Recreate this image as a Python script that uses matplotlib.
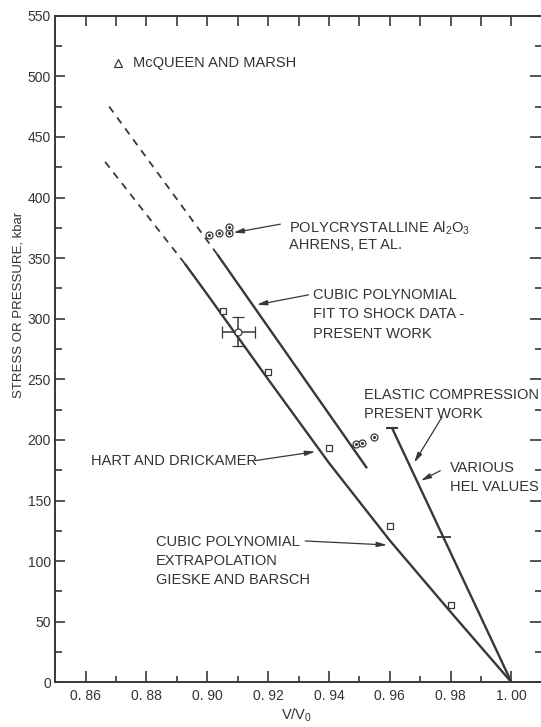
import numpy as np
import matplotlib
matplotlib.use("Agg")
import matplotlib.pyplot as plt
from matplotlib.ticker import MultipleLocator, FixedLocator

plt.rcParams['font.family'] = ['Liberation Sans', 'DejaVu Sans']
plt.rcParams['mathtext.fontset'] = 'custom'
plt.rcParams['mathtext.rm'] = 'Liberation Sans'
plt.rcParams['mathtext.it'] = 'Liberation Sans'

# ---------------- data ----------------
# Gieske & Barsch cubic extrapolation (solid part, then dashed continuation)
gb_v = [1.00, 0.98, 0.96, 0.94, 0.92, 0.90, 0.8926]
gb_p = [0, 58, 117, 181, 250, 320, 345.5]
gb_dash_v = [0.8926, 0.8656]
gb_dash_p = [345.5, 432]

# Cubic polynomial fit to shock data, present work
fit_v = [0.9525, 0.9033]
fit_p = [176.6, 353]
fit_dash_v = [0.9033, 0.8676]
fit_dash_p = [353, 475.5]

# Elastic compression, present work
el_v = [1.00, 0.9607]
el_p = [0, 210]
hel_v = [0.9777]
hel_p = [120]

# Hart & Drickamer (squares)
sq_v = [0.905, 0.920, 0.940, 0.960, 0.980]
sq_p = [306, 256, 193, 129, 64]

# Ahrens et al. polycrystalline (circles)
ci_v = [0.9004, 0.9037, 0.9070, 0.9070, 0.9490, 0.9508, 0.9547]
ci_p = [369, 371, 371, 376, 196.5, 197.8, 202]

# Point with error bars
eb_v = [0.9102]
eb_p = [289.3]
eb_xerr = [0.0055]
eb_yerr = [11.7]

# McQueen and Marsh legend triangle
tri_v = [0.8708]
tri_p = [510.7]

x_ticks = [0.86, 0.88, 0.90, 0.92, 0.94, 0.96, 0.98, 1.00]
x_ticklabels = ["0. 86", "0. 88", "0. 90", "0. 92", "0. 94", "0. 96", "0. 98", "1. 00"]
y_ticks = list(range(0, 551, 50))

# ---------------- figure ----------------
ink = "#383838"
W, H = 541, 727
fig = plt.figure(figsize=(W / 100, H / 100), dpi=100)
ax = fig.add_axes([55.2 / W, (H - 682.3) / H, 1 - 55.2 / W, (682.3 - 15.7) / H])
ax.set_xlim(0.85, 1.0097)
ax.set_ylim(0, 550)

lw = 1.7
ax.plot(gb_v, gb_p, color=ink, lw=lw, solid_capstyle='butt', solid_joinstyle='round')
ax.plot(gb_dash_v, gb_dash_p, color=ink, lw=1.3, dashes=(4, 3.5))
ax.plot(fit_v, fit_p, color=ink, lw=lw, solid_capstyle='butt')
ax.plot(fit_dash_v, fit_dash_p, color=ink, lw=1.3, dashes=(4, 3.5))
ax.plot(el_v, el_p, color=ink, lw=lw, solid_capstyle='butt')
ax.plot(el_v[1:], el_p[1:], ls='none', marker='_', ms=8, mew=1.5, color=ink)
ax.plot(hel_v, hel_p, ls='none', marker='_', ms=10, mew=1.3, color=ink)

ax.plot(sq_v, sq_p, ls='none', marker='s', ms=4.5, mfc='white', mec=ink, mew=0.9)
ax.plot(ci_v, ci_p, ls='none', marker='o', ms=5, mfc='white', mec=ink, mew=0.9)
ax.plot(ci_v, ci_p, ls='none', marker='o', ms=1.2, mfc=ink, mec=ink)
ax.errorbar(eb_v, eb_p, xerr=eb_xerr, yerr=eb_yerr, fmt='o', ms=5, mfc='white',
            mec=ink, mew=0.9, ecolor=ink, elinewidth=1.1, capsize=4, capthick=1.1)
ax.plot(tri_v, tri_p, ls='none', marker='^', ms=6, mfc='white', mec=ink, mew=0.9)

fs = 10.5
tc = "#333333"
ax.text(0.8755, 511, "McQUEEN AND MARSH", fontsize=fs, color=tc, va='center', ha='left')
ax.text(0.9267, 375, r"POLYCRYSTALLINE Al$_2$O$_3$", fontsize=fs, color=tc, va='center', ha='left')
ax.text(0.9267, 361, "AHRENS, ET AL.", fontsize=fs, color=tc, va='center', ha='left')
for i, s in enumerate(["CUBIC POLYNOMIAL", "FIT TO SHOCK DATA -", "PRESENT WORK"]):
    ax.text(0.9347, 319.7 - i * 16.2, s, fontsize=fs, color=tc, va='center', ha='left')
for i, s in enumerate(["ELASTIC COMPRESSION", "PRESENT WORK"]):
    ax.text(0.9516, 237 - i * 15.9, s, fontsize=fs, color=tc, va='center', ha='left')
for i, s in enumerate(["VARIOUS", "HEL VALUES"]):
    ax.text(0.9797, 176.6 - i * 15.7, s, fontsize=fs, color=tc, va='center', ha='left')
ax.text(0.8618, 182.9, "HART AND DRICKAMER", fontsize=fs, color=tc, va='center', ha='left')
for i, s in enumerate(["CUBIC POLYNOMIAL", "EXTRAPOLATION", "GIESKE AND BARSCH"]):
    ax.text(0.8832, 116 - i * 15.8, s, fontsize=fs, color=tc, va='center', ha='left')

arrow = dict(arrowstyle='-|>,head_length=0.6,head_width=0.15', lw=0.9, color=ink,
             shrinkA=0, shrinkB=0)
arrows = [((0.9240, 378), (0.9086, 371)),
          ((0.9333, 319.7), (0.9163, 311.5)),
          ((0.9772, 219), (0.9680, 181.2)),
          ((0.9766, 174.6), (0.9702, 166.3)),
          ((0.9157, 182.9), (0.9355, 190.3)),
          ((0.9322, 116.6), (0.9591, 113.3))]
for start, tip in arrows:
    ax.annotate("", xy=tip, xytext=start, arrowprops=arrow)

# axes styling
for s in ['left', 'bottom', 'top']:
    ax.spines[s].set_color(ink)
    ax.spines[s].set_linewidth(1.4)
ax.spines['right'].set_visible(False)

ax.set_xticks(x_ticks)
ax.set_xticklabels(x_ticklabels)
ax.xaxis.set_minor_locator(FixedLocator([0.87, 0.89, 0.91, 0.93, 0.95, 0.97, 0.99]))
ax.set_yticks(y_ticks)
ax.yaxis.set_minor_locator(MultipleLocator(25))
ax.tick_params(axis='x', which='major', direction='in', length=8, width=1.2, color=ink,
               labelsize=10, labelcolor=tc, pad=5, top=False)
ax.tick_params(axis='x', which='minor', direction='in', length=4.5, width=1.2, color=ink, top=False)
ax.tick_params(axis='y', which='major', direction='in', length=7, width=1.2, color=ink,
               labelsize=10, labelcolor=tc, pad=3, right=False)
ax.tick_params(axis='y', which='minor', direction='in', length=5, width=1.2, color=ink, right=False)

secx = ax.secondary_xaxis('top')
secx.set_xticks([round(0.86 + 0.01 * i, 2) for i in range(15)])
secx.tick_params(direction='in', length=7.5, width=1.2, color=ink, labeltop=False)
for s in secx.spines.values():
    s.set_visible(False)

secy = ax.secondary_yaxis('right')
secy.set_yticks(y_ticks)
secy.yaxis.set_minor_locator(MultipleLocator(25))
secy.tick_params(which='major', direction='in', length=8, width=1.2, color=ink, labelright=False)
secy.tick_params(which='minor', direction='in', length=4.5, width=1.2, color=ink, labelright=False)
for s in secy.spines.values():
    s.set_visible(False)

ax.text(0.9292, -0.05, r"V/V$_0$", transform=ax.get_xaxis_transform(), fontsize=10.5,
        color=tc, ha='center', va='center')
ax.text(-0.075, 0.566, "STRESS OR PRESSURE, kbar", transform=ax.transAxes, fontsize=9.5,
        color=tc, ha='center', va='center', rotation=90)

fig.savefig("out.png", dpi=100, facecolor='white')
